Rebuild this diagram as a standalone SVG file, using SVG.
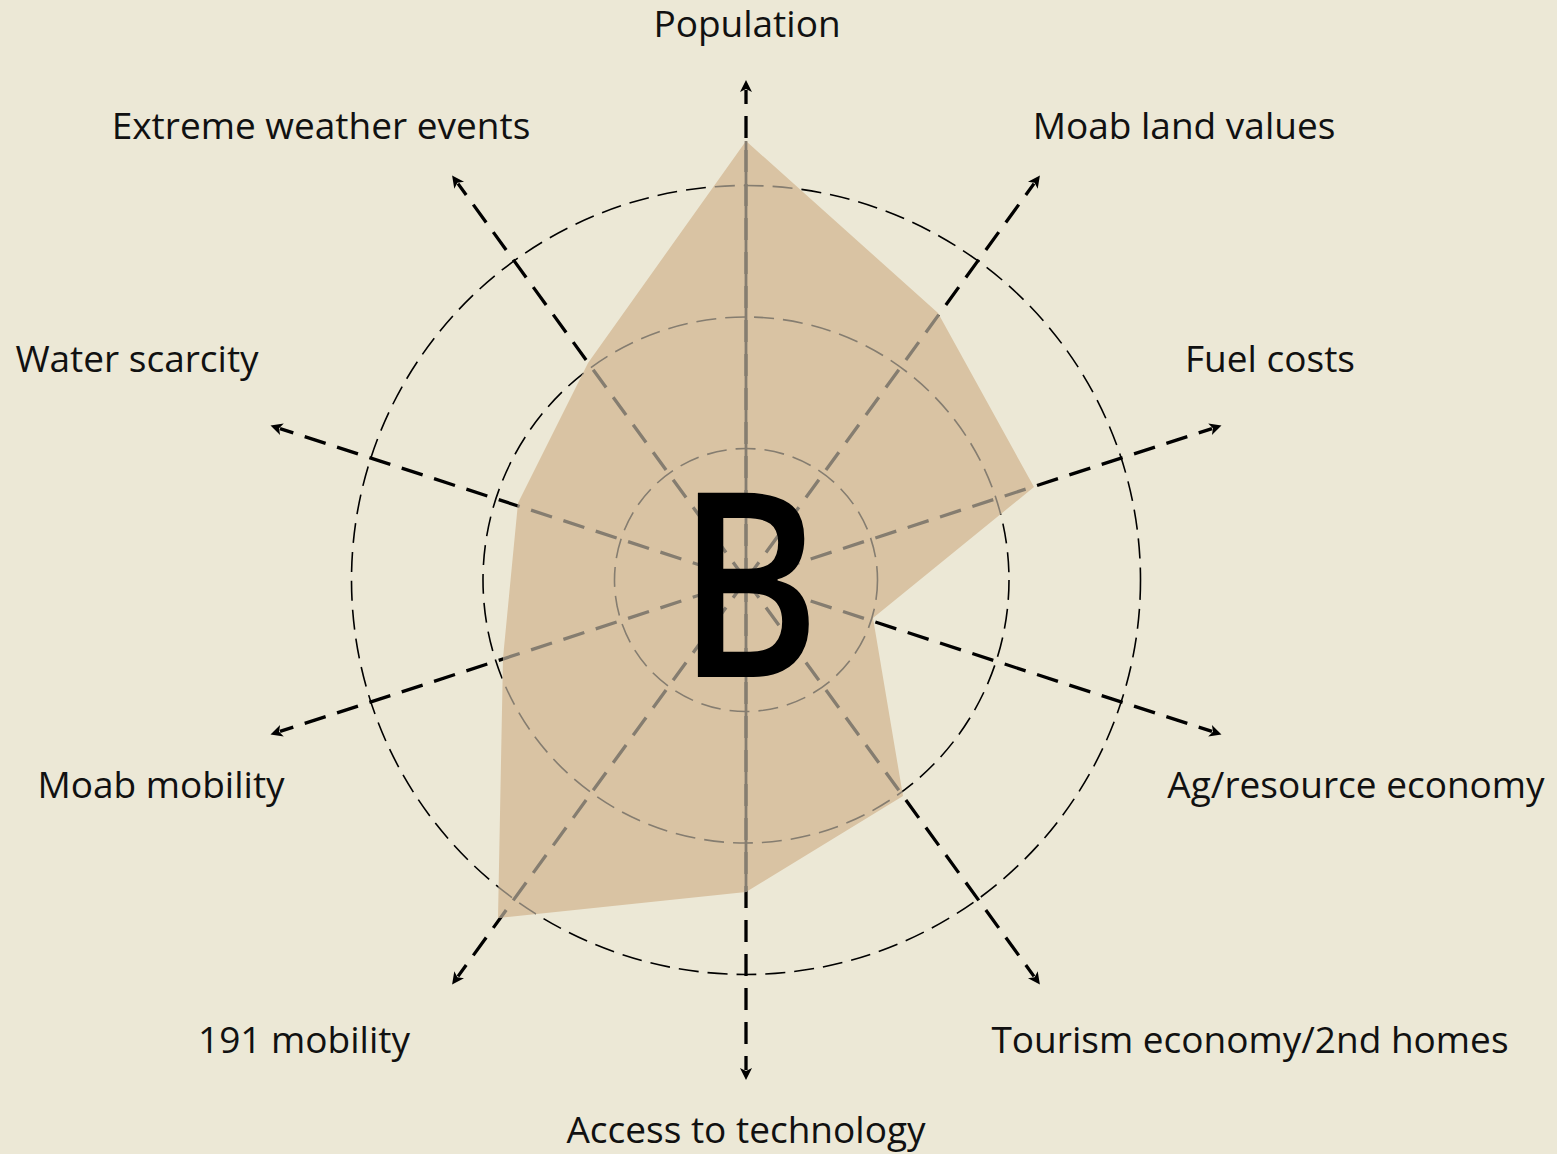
<svg xmlns="http://www.w3.org/2000/svg" xmlns:xlink="http://www.w3.org/1999/xlink" width="1557" height="1154" viewBox="0 0 1557 1154">
<style>
.lbl{font-family:"Open Sans","Noto Sans","DejaVu Sans",sans-serif;font-size:37px;fill:#111;text-anchor:middle}
.big{font-family:"Open Sans","Noto Sans","DejaVu Sans",sans-serif;font-size:258px;font-weight:600;fill:#000;text-anchor:middle}
.axis{stroke-width:3.3;stroke-dasharray:22 12;fill:none}
.ring{stroke-width:1.6;stroke-dasharray:20 9;fill:none}
</style>
<defs>
<path id="head" d="M0,-6 L12,0 L0,6 L3,0 Z"/>
<clipPath id="polyClip"><polygon points="746,141 938,313 1034,487 873,618 903,796 746,892 498,918 503,658 518,503 588,363"/></clipPath>
<g id="rings">
<circle class="ring" cx="746" cy="580" r="131.5"/>
<circle class="ring" cx="746" cy="580" r="263"/>
<circle class="ring" cx="746" cy="580" r="394.5"/>
</g>
<g id="axes">
<line class="axis" x1="746" y1="580" x2="746" y2="90"/>
<line class="axis" x1="746" y1="580" x2="1034" y2="183.6"/>
<line class="axis" x1="746" y1="580" x2="1212" y2="428.6"/>
<line class="axis" x1="746" y1="580" x2="1212" y2="731.4"/>
<line class="axis" x1="746" y1="580" x2="1034" y2="976.4"/>
<line class="axis" x1="746" y1="580" x2="746" y2="1070"/>
<line class="axis" x1="746" y1="580" x2="458" y2="976.4"/>
<line class="axis" x1="746" y1="580" x2="280" y2="731.4"/>
<line class="axis" x1="746" y1="580" x2="280" y2="428.6"/>
<line class="axis" x1="746" y1="580" x2="458" y2="183.6"/>
</g>
</defs>
<rect width="1557" height="1154" fill="#ECE8D6"/>
<g id="connectors">
<use xlink:href="#rings" stroke="#000"/>
<use xlink:href="#axes" stroke="#000"/>
<g id="arrowheads" fill="#000">
<use xlink:href="#head" transform="translate(746,80) rotate(-90) translate(-12,0)"/>
<use xlink:href="#head" transform="translate(1039.9,175.5) rotate(-54) translate(-12,0)"/>
<use xlink:href="#head" transform="translate(1221.5,425.5) rotate(-18) translate(-12,0)"/>
<use xlink:href="#head" transform="translate(1221.5,734.5) rotate(18) translate(-12,0)"/>
<use xlink:href="#head" transform="translate(1039.9,984.5) rotate(54) translate(-12,0)"/>
<use xlink:href="#head" transform="translate(746,1080) rotate(90) translate(-12,0)"/>
<use xlink:href="#head" transform="translate(452.1,984.5) rotate(126) translate(-12,0)"/>
<use xlink:href="#head" transform="translate(270.5,734.5) rotate(162) translate(-12,0)"/>
<use xlink:href="#head" transform="translate(270.5,425.5) rotate(198) translate(-12,0)"/>
<use xlink:href="#head" transform="translate(452.1,175.5) rotate(234) translate(-12,0)"/>
</g>
</g>
<g id="profile">
<polygon points="746,141 938,313 1034,487 873,618 903,796 746,892 498,918 503,658 518,503 588,363" fill="#D9C3A3"/>
<g clip-path="url(#polyClip)">
<use xlink:href="#rings" stroke="#857D70"/>
<use xlink:href="#axes" stroke="#857D70"/>
</g>
<line x1="746" y1="141" x2="746" y2="892" stroke="#857D70" stroke-width="2.8"/>
</g>
<g id="center-label"><text class="big" x="0" y="677" transform="translate(749,0) scale(0.84,1)">B</text></g>
<g id="n-population"><text class="lbl" x="747" y="37">Population</text></g>
<g id="n-moab-land"><text class="lbl" x="1184" y="139">Moab land values</text></g>
<g id="n-fuel"><text class="lbl" x="1270" y="372">Fuel costs</text></g>
<g id="n-ag"><text class="lbl" x="1356" y="798">Ag/resource economy</text></g>
<g id="n-tourism"><text class="lbl" x="1250" y="1053">Tourism economy/2nd homes</text></g>
<g id="n-access"><text class="lbl" x="746" y="1143">Access to technology</text></g>
<g id="n-191"><text class="lbl" x="304" y="1053">191 mobility</text></g>
<g id="n-moab-mob"><text class="lbl" x="161" y="798">Moab mobility</text></g>
<g id="n-water"><text class="lbl" x="137" y="372">Water scarcity</text></g>
<g id="n-extreme"><text class="lbl" x="321" y="139">Extreme weather events</text></g>
</svg>
